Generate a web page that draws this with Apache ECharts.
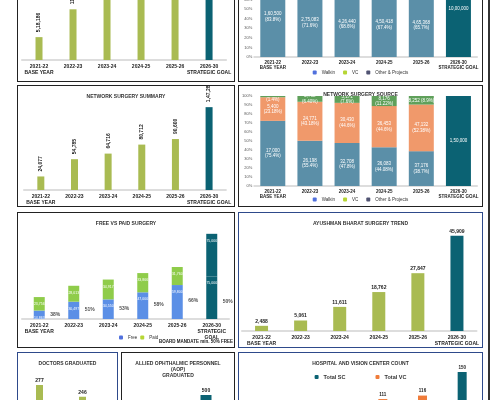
<!DOCTYPE html>
<html><head><meta charset="utf-8">
<script src="https://cdn.jsdelivr.net/npm/echarts@6/dist/echarts.min.js"></script>
<style>
body{margin:0;width:500px;height:400px;overflow:hidden;background:#fff;font-family:"Liberation Sans",Arial,sans-serif;position:relative}
.p{position:absolute;box-sizing:border-box;border:1.5px solid #222;background:#fff}
.b{border-color:#2e4a8b}
</style></head><body>
<div class="p" id="c1" style="left:17px;top:-80px;width:218px;height:162px"></div>
<div class="p" id="c2" style="left:238px;top:-80px;width:245px;height:162px"></div>
<div class="p" id="c3" style="left:17px;top:85px;width:218px;height:122px"></div>
<div class="p" id="c4" style="left:238px;top:85px;width:245px;height:122px"></div>
<div class="p" id="c5" style="left:17px;top:212px;width:218px;height:136px"></div>
<div class="p b" id="c6" style="left:238px;top:212px;width:245px;height:136px"></div>
<div class="p b" id="c7" style="left:17px;top:352px;width:101px;height:140px"></div>
<div class="p" id="c8" style="left:121px;top:352px;width:114px;height:140px"></div>
<div class="p b" id="c9" style="left:238px;top:352px;width:245px;height:140px"></div>
<div style="position:absolute;left:488px;top:0;width:2px;height:400px;background:#333"></div>
<script>
const years = ['2021-22\nBASE YEAR','2022-23','2023-24','2024-25','2025-26','2026-30\nSTRATEGIC GOAL'];
const years5 = ['2021-22\nBASE YEAR','2022-23','2023-24','2024-25','2025-26','2026-30\nSTRATEGIC\nGOAL'];
const totalSurgery = [518186, 1149000, 3400000, 3500000, 3500000, 4000000];
const opdWalkinPct = [83.8, 71.6, 68.6, 67.4, 65.7, 100];
const opdVcPct = [12.0, 20.0, 22.0, 23.0, 24.0, 0];
const opdOtherPct = [4.2, 8.4, 9.4, 9.6, 10.3, 0];
const opdWalkinLbl = ['1,60,500\n(83.8%)','2,75,083\n(71.6%)','4,26,440\n(68.6%)','4,50,418\n(67.4%)','4,65,368\n(65.7%)','10,00,000'];
const networkSurgery = [24077, 54785, 64716, 80712, 90600, 147280];
const srcWalkinPct = [72.4, 50.4, 47.8, 43.1, 38.7, 100];
const srcVcPct = [26.2, 43.2, 44.6, 45.7, 51.8, 0];
const srcOtherPct = [1.4, 6.4, 7.6, 11.2, 9.5, 0];
const srcWalkinLbl = ['17,000\n(75.4%)','26,198\n(55.4%)','32,708\n(47.8%)','36,083\n(44.08%)','37,176\n(38.7%)','1,50,000'];
const srcVcLbl = ['5,400\n(23.18%)','24,771\n(43.18%)','30,430\n(44.6%)','36,453\n(44.6%)','47,132\n(52.38%)',''];
const srcOtherLbl = ['300\n(1.4%)','2,768\n(6.40%)','5,171\n(7.6%)','8,176\n(11.22%)','8,252 (8.9%)',''];
const freeSurgery = [14863, 30497, 34550, 47000, 59800, 75000];
const paidSurgery = [23756, 28013, 34917, 33866, 31760, 75000];
const freePctLbl = ['38%','51%','53%','58%','66%','50%'];
const ayushman = [2488, 5061, 11611, 18762, 27847, 45909];
const doctorYears = ['2023-24','2026-30'];
const doctors = [277, 246];
const aopYears = ['2025-26','2026-30'];
const aop = [150, 500];
const hospYears = ['2021-22','2022-23','2023-24','2024-25','2025-26','2026-30'];
const totalSC = [null, null, null, null, null, 150];
const totalVC = [40, 70, 95, 111, 116, null];

const G='#a9bb52', T='#0b6273', W='#5b8fa8', O='#f0996b', GR='#5fa05a', FR='#5b8fe6', PD='#8fcc4a';
const fmt = v => Number(v).toLocaleString('en-IN');
const lab = {fontSize:5,fontWeight:'bold',color:'#222',lineHeight:6};
function xA(d,extra){return Object.assign({type:'category',data:d,axisTick:{show:false},axisLine:{lineStyle:{color:'#ddd',width:2}},axisLabel:Object.assign({},lab,{interval:0,margin:4})},extra||{});}
function yH(max,extra){return Object.assign({type:'value',min:0,max:max,show:false},extra||{});}
function title(t,top){return {text:t,left:'center',top:top||3,textStyle:{fontSize:5,fontWeight:'bold',color:'#333',lineHeight:6}};}
function mk(id,opt){echarts.init(document.getElementById(id),null,{renderer:'canvas'}).setOption(Object.assign({animation:false},opt));}

mk('c1',{grid:{left:4,right:5,top:0,bottom:21},xAxis:xA(years),yAxis:yH(3150000),
 series:[{type:'bar',barWidth:7,data:totalSurgery.map((v,i)=>({value:v,itemStyle:{color:i==5?T:G}})),
  label:{show:true,position:'top',rotate:90,align:'left',verticalAlign:'middle',formatter:p=>fmt(p.value),fontSize:5,fontWeight:'bold',color:'#222'}}]});

const pctAxis={type:'value',min:0,max:100,interval:10,axisLabel:{fontSize:4,color:'#555',formatter:'{value}%',margin:2},splitLine:{show:false}};
function stk(name,data,color,lbls){return {name,type:'bar',stack:'a',barWidth:25,data:data.map((v,i)=>({value:v,itemStyle:{color:(name=='Walkin'&&i==5)?T:color}})),
 label:{show:true,position:'inside',fontSize:4.5,color:'#fff',lineHeight:5.5,formatter:p=>lbls?lbls[p.dataIndex]:''}};}
const leg={bottom:1,itemWidth:4,itemHeight:4,itemGap:8,textStyle:{fontSize:4.5,color:'#333'}};
mk('c2',{grid:{left:11,right:5,top:40,bottom:24},legend:Object.assign({},leg,{data:['Walkin','VC','Other & Projects']}),
 xAxis:xA(years,{axisLabel:Object.assign({},lab,{interval:0,margin:3,fontSize:4.5,lineHeight:5})}),yAxis:pctAxis,
 series:[stk('Walkin',opdWalkinPct,W,opdWalkinLbl),stk('VC',opdVcPct,O,null),stk('Other & Projects',opdOtherPct,GR,null)]});

mk('c3',{title:title('NETWORK SURGERY SUMMARY'),grid:{left:6,right:5,top:14,bottom:15},xAxis:xA(years),yAxis:yH(160000),
 series:[{type:'bar',barWidth:7,data:networkSurgery.map((v,i)=>({value:v,itemStyle:{color:i==5?T:G}})),
  label:{show:true,position:'top',rotate:90,align:'left',verticalAlign:'middle',formatter:p=>fmt(p.value),fontSize:5,fontWeight:'bold',color:'#222'}}]});

mk('c4',{title:title('NETWORK SURGERY SOURCE',1),grid:{left:11,right:5,top:10,bottom:20},legend:Object.assign({},leg,{data:['Walkin','VC','Other & Projects'],bottom:-1}),
 xAxis:xA(years,{axisLabel:Object.assign({},lab,{interval:0,margin:3,fontSize:4.5,lineHeight:5})}),yAxis:pctAxis,
 series:[stk('Walkin',srcWalkinPct,W,srcWalkinLbl),stk('VC',srcVcPct,O,srcVcLbl),stk('Other & Projects',srcOtherPct,GR,srcOtherLbl)]});

mk('c5',{title:title('FREE VS PAID SURGERY'),grid:{left:4,right:5,top:14,bottom:28},
 legend:{data:['Free','Paid'],left:96,bottom:2,itemWidth:4,itemHeight:4,itemGap:3,textStyle:{fontSize:4.5,color:'#333'}},
 graphic:[{type:'text',left:141,bottom:3,style:{text:'BOARD MANDATE min. 50% FREE',fontSize:4.5,fontWeight:'bold',fill:'#222'}}],
 xAxis:xA(years5),yAxis:yH(162000),
 series:[{name:'Free',type:'bar',stack:'s',barWidth:11,data:freeSurgery.map((v,i)=>({value:v,itemStyle:{color:i==5?T:FR}})),
   label:{show:true,position:'insideTop',fontSize:3.5,color:'#fff',formatter:p=>fmt(p.value)}},
  {name:'Paid',type:'bar',stack:'s',barWidth:11,data:paidSurgery.map((v,i)=>({value:v,itemStyle:{color:i==5?T:PD}})),
   label:{show:true,position:'insideTop',fontSize:3.5,color:'#fff',formatter:p=>fmt(p.value)}},
  {type:'scatter',symbolSize:0,data:freeSurgery.map((v,i)=>i==5?v*0.4:v*0.55),
   label:{show:true,position:'right',offset:[6,0],fontSize:5,fontWeight:'bold',color:'#222',formatter:p=>freePctLbl[p.dataIndex]}}]});

mk('c6',{title:title('AYUSHMAN BHARAT SURGERY TREND'),grid:{left:3,right:4,top:14,bottom:15},xAxis:xA(years),yAxis:yH(50100),
 series:[{type:'bar',barWidth:13,data:ayushman.map((v,i)=>({value:v,itemStyle:{color:i==5?T:G}})),
  label:{show:true,position:'top',distance:2,formatter:p=>fmt(p.value),fontSize:5,fontWeight:'bold',color:'#222'}}]});

mk('c7',{title:title('DOCTORS GRADUATED'),grid:{left:0,right:13,top:32,bottom:1},xAxis:xA(doctorYears,{axisLabel:{show:false}}),yAxis:yH(277),
 series:[{type:'bar',barWidth:7,data:doctors,itemStyle:{color:G},label:{show:true,position:'top',distance:2,fontSize:5,fontWeight:'bold',color:'#222'}}]});

mk('c8',{title:title('ALLIED OPHTHALMIC PERSONNEL\n(AOP)\nGRADUATED'),grid:{left:0,right:-10,top:42,bottom:1},xAxis:xA(aopYears,{axisLabel:{show:false}}),yAxis:yH(500),
 series:[{type:'bar',barWidth:11,data:aop,itemStyle:{color:T},label:{show:true,position:'top',distance:2,fontSize:5,fontWeight:'bold',color:'#222'}}]});

mk('c9',{title:title('HOSPITAL AND VISION CENTER COUNT'),grid:{left:5,right:0,top:19,bottom:15},
 legend:{data:['Total SC','Total VC'],top:16,left:'center',itemWidth:4,itemHeight:4,itemGap:30,textStyle:{fontSize:5.5,fontWeight:'bold',color:'#333'}},
 xAxis:xA(hospYears,{axisLabel:{show:false}}),yAxis:yH(150),
 series:[{name:'Total SC',type:'bar',stack:'h',barWidth:9,data:totalSC,itemStyle:{color:T},label:{show:true,position:'top',distance:2,fontSize:4.5,fontWeight:'bold',color:'#222'}},
  {name:'Total VC',type:'bar',stack:'h',barWidth:9,data:totalVC,itemStyle:{color:'#f07c3a'},label:{show:true,position:'top',distance:2,fontSize:4.5,fontWeight:'bold',color:'#222'}}]});
</script></body></html>
